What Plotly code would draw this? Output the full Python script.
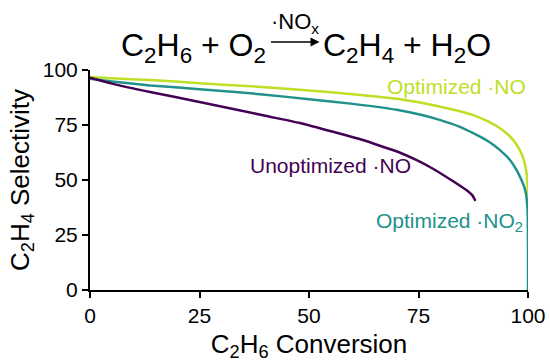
import plotly.graph_objects as go

# ---- data ----
x_ticks = [0, 25, 50, 75, 100]
y_ticks = [0, 25, 50, 75, 100]

opt_no_x = [0, 5, 13.7, 25, 40, 50, 60, 70, 76, 80, 84, 87.5, 91, 93.6, 95.8, 97.4, 98.5, 99.2, 99.6, 99.85, 100]
opt_no_y = [96.8, 96.2, 95.5, 94.0, 92.2, 90.7, 89.0, 86.9, 85.0, 83.3, 81.5, 79.5, 76.5, 73.5, 70.0, 66.0, 62.0, 58.0, 54.0, 49.0, 43.0]

opt_no2_x = [0, 5, 13.7, 25, 40, 50, 60, 70, 76, 80, 84, 87.5, 91, 93.6, 95.8, 97.4, 98.5, 99.2, 99.6, 99.85, 99.95, 100, 100]
opt_no2_y = [96.0, 94.8, 93.0, 91.3, 88.8, 86.7, 84.6, 81.9, 79.4, 77.2, 74.5, 71.3, 67.5, 63.6, 59.3, 54.5, 50.0, 46.5, 43.0, 38.0, 33.0, 20.0, 0.0]

unopt_no_x = [0, 5, 13.7, 25, 40, 47.9, 55.5, 63.2, 67, 70.8, 74.6, 78.4, 82.9, 86, 87.3, 88]
unopt_no_y = [96.5, 93.8, 90.0, 85.5, 79.2, 75.9, 71.9, 67.6, 65.0, 62.4, 59.0, 55.0, 49.4, 45.3, 43.0, 40.5]

series_names = ["Optimized ·NO", "Optimized ·NO<sub>2</sub>", "Unoptimized ·NO"]
colors = ["#bddf26", "#21918c", "#440154"]

FONT = "Liberation Sans, Arial, Helvetica, sans-serif"

fig = go.Figure()
for xs, ys, c, n in [(opt_no_x, opt_no_y, colors[0], series_names[0]),
                     (opt_no2_x, opt_no2_y, colors[1], series_names[1]),
                     (unopt_no_x, unopt_no_y, colors[2], series_names[2])]:
    fig.add_trace(go.Scatter(x=xs, y=ys, mode="lines", name=n,
                             line=dict(color=c, width=2.5, shape="spline", smoothing=0.6),
                             cliponaxis=False, hoverinfo="skip"))

# curve labels
fig.add_annotation(x=100, y=92.3, xref="x", yref="y", text=series_names[0],
                   showarrow=False, xanchor="right", yanchor="middle",
                   font=dict(family=FONT, size=21, color=colors[0]))
fig.add_annotation(x=36, y=56.8, xref="x", yref="y", text=series_names[2],
                   showarrow=False, xanchor="left", yanchor="middle",
                   font=dict(family=FONT, size=21, color=colors[2]))
fig.add_annotation(x=99.3, y=30.8, xref="x", yref="y", text=series_names[1],
                   showarrow=False, xanchor="right", yanchor="middle",
                   font=dict(family=FONT, size=21, color=colors[1]))

# reaction title
tfont = dict(family=FONT, size=32, color="black")
fig.add_annotation(x=0.406, y=1.10, xref="paper", yref="paper",
                   text="C<sub>2</sub>H<sub>6</sub> + O<sub>2</sub>",
                   showarrow=False, xanchor="right", yanchor="middle", font=tfont)
fig.add_annotation(x=0.527, y=1.10, xref="paper", yref="paper",
                   text="C<sub>2</sub>H<sub>4</sub> + H<sub>2</sub>O",
                   showarrow=False, xanchor="left", yanchor="middle", font=tfont)
fig.add_annotation(x=0.524, y=1.127, xref="paper", yref="paper", text="",
                   showarrow=True, ax=-50, ay=0, axref="pixel", ayref="pixel",
                   arrowhead=2, arrowsize=1.2, arrowwidth=1.5, arrowcolor="black",
                   standoff=0, startstandoff=0)
fig.add_annotation(x=0.468, y=1.212, xref="paper", yref="paper",
                   text="·NO<sub>x</sub>", showarrow=False,
                   xanchor="center", yanchor="middle",
                   font=dict(family=FONT, size=22, color="black"))

axis_common = dict(range=[0, 100], showline=True, linecolor="black", linewidth=2,
                   ticks="outside", ticklen=6, tickwidth=2, tickcolor="black",
                   showgrid=False, zeroline=False,
                   tickfont=dict(family=FONT, size=21, color="black"))

fig.update_layout(
    width=550, height=362,
    margin=dict(l=90, r=22, t=70, b=72, autoexpand=False),
    paper_bgcolor="white", plot_bgcolor="white",
    showlegend=False,
    font=dict(family=FONT, color="black"),
    xaxis=dict(**axis_common, tickvals=x_ticks,
               title=dict(text="C<sub>2</sub>H<sub>6</sub> Conversion",
                          font=dict(family=FONT, size=26), standoff=10)),
    yaxis=dict(**axis_common, tickvals=y_ticks,
               title=dict(text="C<sub>2</sub>H<sub>4</sub> Selectivity",
                          font=dict(family=FONT, size=26), standoff=6)),
)

fig.write_html("out.html", config={"displayModeBar": False},
               post_script="document.body.style.margin='0';document.body.style.padding='0';")
